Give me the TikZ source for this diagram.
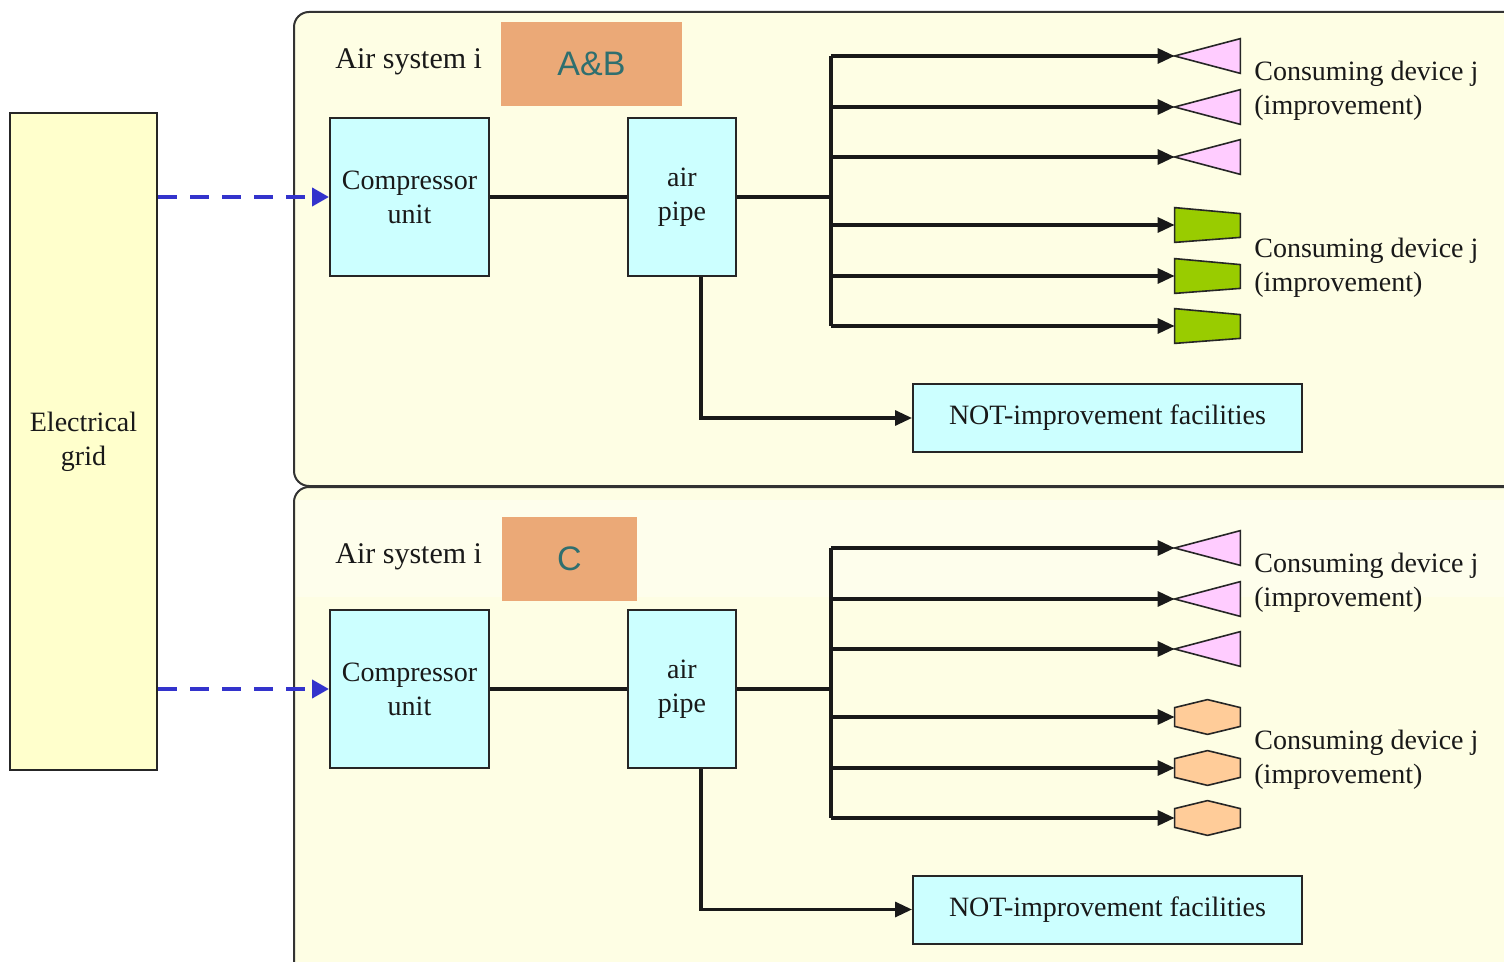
\documentclass[tikz,border=0pt]{standalone}
\usepackage{fontspec}
\setmainfont{Liberation Serif}
\newfontfamily\tagfont{Liberation Sans}
\usetikzlibrary{arrows.meta}

\definecolor{gridfill}{HTML}{FFFFCC}
\definecolor{panelfill}{HTML}{FEFEE4}
\definecolor{bandfill}{HTML}{FEFEEC}
\definecolor{boxfill}{HTML}{CCFFFF}
\definecolor{tagfill}{HTML}{EBA977}
\definecolor{tagtext}{HTML}{2F6F6F}
\definecolor{pinkdev}{HTML}{FFCCFF}
\definecolor{greendev}{HTML}{99CC00}
\definecolor{orangedev}{HTML}{FFCC99}
\definecolor{feedblue}{HTML}{3333CC}

\tikzset{
  txt/.style={font=\fontsize{14}{17}\selectfont, text=black!90},
  unitbox/.style={txt, draw=black!85, fill=boxfill, line width=1pt, inner sep=0pt, align=center},
  gridbox/.style={unitbox, fill=gridfill, minimum width=73.5pt, minimum height=328.5pt},
  compbox/.style={unitbox, minimum width=79.5pt, minimum height=79pt},
  pipebox/.style={unitbox, minimum width=54pt, minimum height=79pt},
  notbox/.style={unitbox, minimum width=194.5pt, minimum height=34pt},
  tagbox/.style={fill=tagfill, inner sep=0pt, minimum height=42pt, text=tagtext, font=\tagfont\fontsize{17}{20}\selectfont},
  panel/.style={draw=black!80, fill=panelfill, line width=1pt, rounded corners=7.5pt},
  devslot/.style={inner sep=0pt, minimum width=32.5pt, minimum height=17pt},
  devline/.style={draw=black!85, line width=0.8pt},
  pipeline/.style={line width=1.6pt, black!90},
  flow/.style={pipeline, -{Triangle[length=8.5pt,width=7.5pt]}},
  feed/.style={line width=2pt, feedblue, dash pattern=on 9.5pt off 6.5pt, -{Triangle[length=8.5pt,width=9pt]}},
}

\begin{document}
\begin{tikzpicture}[x=0.5pt, y=-0.5pt]
  \clip (0,0) rectangle (1504,962);
  \fill[white] (0,0) rectangle (1504,962);

  % the two air systems
  \draw[panel] (294,12) rectangle (1540,486);
  \draw[panel] (294,487) rectangle (1540,1000);
  \fill[bandfill] (296,500) rectangle (1504,597);

  \node[gridbox] (grid) at (83.5,441.5) {Electrical\\grid};

  % air system A&B
  \node[txt, anchor=west, inner sep=0pt, font=\fontsize{15}{18}\selectfont] (sys1) at (335,62) {Air system i};
  \node[tagbox, minimum width=90.5pt] (tag1) at (591.5,64) {A\&B};
  \node[compbox] (comp1) at (409.5,197) {Compressor\\unit};
  \node[pipebox] (pipe1) at (682,197) {air\\pipe};
  \node[notbox] (not1) at (1107.5,418) {NOT-improvement facilities};
  \coordinate (bus1) at (831,197);
  \node[devslot] (d11) at (1207.5,56) {};
  \node[devslot] (d12) at (1207.5,107) {};
  \node[devslot] (d13) at (1207.5,157) {};
  \node[devslot] (d14) at (1207.5,225) {};
  \node[devslot] (d15) at (1207.5,276) {};
  \node[devslot] (d16) at (1207.5,326) {};
  \node[txt, anchor=west, align=left, inner sep=0pt] (lab11) at (1254,91) {Consuming device j\\(improvement)};
  \node[txt, anchor=west, align=left, inner sep=0pt] (lab12) at (1254,268) {Consuming device j\\(improvement)};

  % air system C
  \node[txt, anchor=west, inner sep=0pt, font=\fontsize{15}{18}\selectfont] (sys2) at (335,557) {Air system i};
  \node[tagbox, minimum width=67.5pt] (tag2) at (569.5,559) {C};
  \node[compbox] (comp2) at (409.5,689) {Compressor\\unit};
  \node[pipebox] (pipe2) at (682,689) {air\\pipe};
  \node[notbox] (not2) at (1107.5,909.5) {NOT-improvement facilities};
  \coordinate (bus2) at (831,689);
  \node[devslot] (d21) at (1207.5,548) {};
  \node[devslot] (d22) at (1207.5,599) {};
  \node[devslot] (d23) at (1207.5,649) {};
  \node[devslot] (d24) at (1207.5,717) {};
  \node[devslot] (d25) at (1207.5,768) {};
  \node[devslot] (d26) at (1207.5,818) {};
  \node[txt, anchor=west, align=left, inner sep=0pt] (lab21) at (1254,583) {Consuming device j\\(improvement)};
  \node[txt, anchor=west, align=left, inner sep=0pt] (lab22) at (1254,760) {Consuming device j\\(improvement)};

  % consuming devices
  \draw[devline, fill=pinkdev] (d11.west) -- (d11.north east) -- (d11.south east) -- cycle;
  \draw[devline, fill=pinkdev] (d12.west) -- (d12.north east) -- (d12.south east) -- cycle;
  \draw[devline, fill=pinkdev] (d13.west) -- (d13.north east) -- (d13.south east) -- cycle;
  \draw[devline, fill=greendev] (d14.north west) -- ([yshift=-3pt]d14.north east) -- ([yshift=2.5pt]d14.south east) -- (d14.south west) -- cycle;
  \draw[devline, fill=greendev] (d15.north west) -- ([yshift=-3pt]d15.north east) -- ([yshift=2.5pt]d15.south east) -- (d15.south west) -- cycle;
  \draw[devline, fill=greendev] (d16.north west) -- ([yshift=-3pt]d16.north east) -- ([yshift=2.5pt]d16.south east) -- (d16.south west) -- cycle;
  \draw[devline, fill=pinkdev] (d21.west) -- (d21.north east) -- (d21.south east) -- cycle;
  \draw[devline, fill=pinkdev] (d22.west) -- (d22.north east) -- (d22.south east) -- cycle;
  \draw[devline, fill=pinkdev] (d23.west) -- (d23.north east) -- (d23.south east) -- cycle;
  \draw[devline, fill=orangedev] (d24.north) -- ([yshift=-4pt]d24.north east) -- ([yshift=4pt]d24.south east) -- (d24.south) -- ([yshift=4pt]d24.south west) -- ([yshift=-4pt]d24.north west) -- cycle;
  \draw[devline, fill=orangedev] (d25.north) -- ([yshift=-4pt]d25.north east) -- ([yshift=4pt]d25.south east) -- (d25.south) -- ([yshift=4pt]d25.south west) -- ([yshift=-4pt]d25.north west) -- cycle;
  \draw[devline, fill=orangedev] (d26.north) -- ([yshift=-4pt]d26.north east) -- ([yshift=4pt]d26.south east) -- (d26.south) -- ([yshift=4pt]d26.south west) -- ([yshift=-4pt]d26.north west) -- cycle;

  % power feed
  \draw[feed] (grid.east |- comp1.west) -- (comp1.west);
  \draw[feed] (grid.east |- comp2.west) -- (comp2.west);

  % air lines
  \begin{scope}
    \draw[pipeline] (comp1.east) -- (pipe1.west);
    \draw[pipeline] (pipe1.east) -- (bus1);
    \draw[pipeline] (bus1 |- d11.west) -- (bus1 |- d16.west);
    \draw[flow] (bus1 |- d11.west) -- (d11.west);
    \draw[flow] (bus1 |- d12.west) -- (d12.west);
    \draw[flow] (bus1 |- d13.west) -- (d13.west);
    \draw[flow] (bus1 |- d14.west) -- (d14.west);
    \draw[flow] (bus1 |- d15.west) -- (d15.west);
    \draw[flow] (bus1 |- d16.west) -- (d16.west);
    \draw[flow] ([xshift=9.5pt]pipe1.south) |- (not1.west);
    \draw[pipeline] (comp2.east) -- (pipe2.west);
    \draw[pipeline] (pipe2.east) -- (bus2);
    \draw[pipeline] (bus2 |- d21.west) -- (bus2 |- d26.west);
    \draw[flow] (bus2 |- d21.west) -- (d21.west);
    \draw[flow] (bus2 |- d22.west) -- (d22.west);
    \draw[flow] (bus2 |- d23.west) -- (d23.west);
    \draw[flow] (bus2 |- d24.west) -- (d24.west);
    \draw[flow] (bus2 |- d25.west) -- (d25.west);
    \draw[flow] (bus2 |- d26.west) -- (d26.west);
    \draw[flow] ([xshift=9.5pt]pipe2.south) |- (not2.west);
  \end{scope}
\end{tikzpicture}
\end{document}
